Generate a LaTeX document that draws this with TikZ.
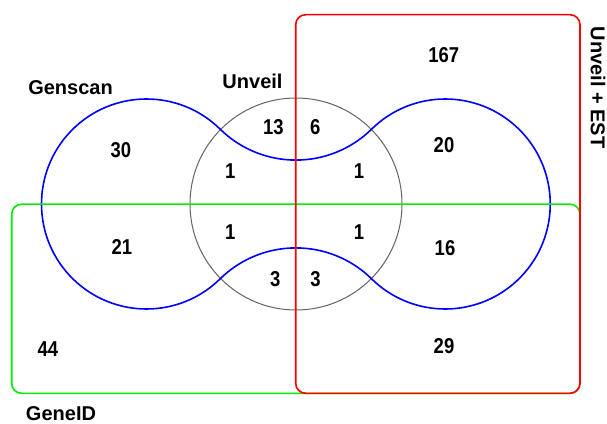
\documentclass[tikz,border=0pt]{standalone}
\usepackage{fontspec}
\setmainfont{Liberation Sans}
\usetikzlibrary{calc}
\definecolor{vblue}{RGB}{0,0,255}
\definecolor{vgreen}{RGB}{0,240,0}
\definecolor{vred}{RGB}{255,0,0}
\definecolor{vgray}{RGB}{100,100,100}
\newcommand{\narrownum}[1]{\scalebox{0.86}[1]{#1}}
\begin{document}
\begin{tikzpicture}[x=1pt,y=1pt,
  num/.style={font=\fontsize{21.5}{24}\selectfont\bfseries, inner sep=0pt},
  lbl/.style={font=\fontsize{20}{24}\selectfont\bfseries, inner sep=0pt},
  setline/.style={line width=1.6pt},
  ]
\useasboundingbox (0,0) rectangle (607,423);
\fill[white] (0,0) rectangle (607,423);
% centres
\coordinate (L) at (146.5,219);
\coordinate (R) at (445.5,219);
\coordinate (U) at (296,219);
\coordinate (T) at (296,371.2);
\coordinate (B) at (296,66.8);
% Unveil circle
\draw[vgray, line width=1pt] (U) circle[radius=106];
% Genscan shape
\coordinate (bstart) at ($(L)+(45.52:105)$);
\draw[vblue, setline] (bstart)
  arc[start angle=45.52, end angle=314.48, radius=105]
  arc[start angle=134.48, end angle=45.52, radius=108.2]
  arc[start angle=225.52, end angle=494.48, radius=105]
  arc[start angle=-45.52, end angle=-134.48, radius=108.2] -- cycle;
% GeneID box
\draw[vgreen, setline, rounded corners=10] (11.7,29.7) rectangle (580,218.8);
% Unveil + EST box
\draw[vred, setline, rounded corners=10] (295.7,29.7) rectangle (580,408.3);
% labels
\node[lbl] (genscan) at (70.5,335.5) {Genscan};
\node[lbl] (unveil) at (252.5,341.8) {Unveil};
\node[lbl] (geneid) at (61,9.7) {GeneID};
\node[lbl, rotate=-90] (unveilest) at (598,335.5) {Unveil + EST};
% numbers
\node[num] (n167) at (443.7,367.5) {\narrownum{167}};
\node[num] (n30) at (121,273) {\narrownum{30}};
\node[num] (n20) at (444,278) {\narrownum{20}};
\node[num] (n21) at (122,176.3) {\narrownum{21}};
\node[num] (n16) at (445,175) {\narrownum{16}};
\node[num] (n29) at (444,77.3) {\narrownum{29}};
\node[num] (n44) at (47.8,74) {\narrownum{44}};
\node[num] (n13) at (273.3,296) {\narrownum{13}};
\node[num] (n6) at (315.3,296) {\narrownum{6}};
\node[num] (n1a) at (230.3,251.5) {\narrownum{1}};
\node[num] (n1b) at (359,251.5) {\narrownum{1}};
\node[num] (n1c) at (230.3,190.5) {\narrownum{1}};
\node[num] (n1d) at (359,190.5) {\narrownum{1}};
\node[num] (n3a) at (275.3,143.5) {\narrownum{3}};
\node[num] (n3b) at (315.5,143.5) {\narrownum{3}};
\end{tikzpicture}
\end{document}
